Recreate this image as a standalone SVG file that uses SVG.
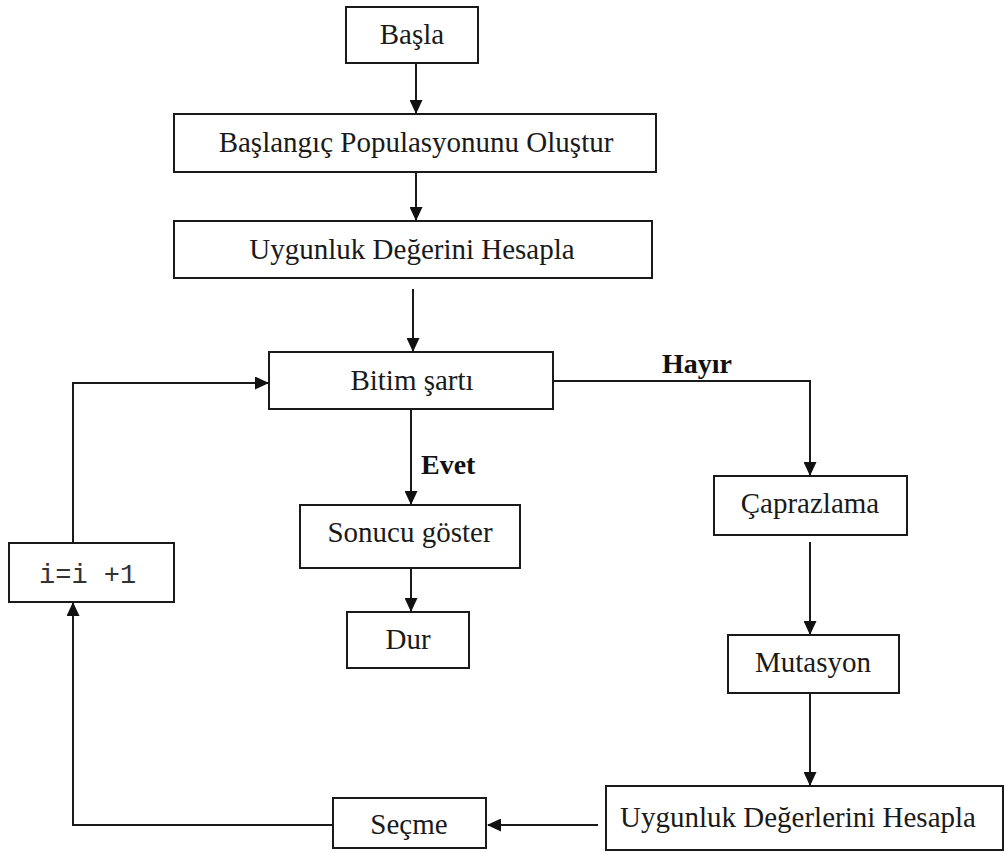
<svg xmlns="http://www.w3.org/2000/svg" width="1004" height="852" viewBox="0 0 1004 852">
<style>
.box{fill:#fff;stroke:#1a1a1a;stroke-width:2}
.t{font-family:"Liberation Serif","Times New Roman",serif;font-size:29px;fill:#1a1a1a;text-anchor:middle}
.b{font-family:"Liberation Serif","Times New Roman",serif;font-size:28px;font-weight:bold;fill:#111}
.m{font-family:"Liberation Mono","Courier New",monospace;font-size:27px;fill:#333}
.c{fill:none;stroke:#1a1a1a;stroke-width:2}
</style>
<defs>
<marker id="ah" markerWidth="14" markerHeight="13" refX="13" refY="6.5" orient="auto" markerUnits="userSpaceOnUse">
<path d="M0,0 L14,6.5 L0,13 Z" fill="#111"/>
</marker>
</defs>
<rect width="1004" height="852" fill="#fff"/>
<g id="connectors">
<path class="c" d="M416,63 V113" marker-end="url(#ah)"/>
<path class="c" d="M416,172 V220" marker-end="url(#ah)"/>
<path class="c" d="M413,289 V351" marker-end="url(#ah)"/>
<path class="c" d="M411,409 V504" marker-end="url(#ah)"/>
<path class="c" d="M411,568 V611" marker-end="url(#ah)"/>
<path class="c" d="M553,381 H810 V475" marker-end="url(#ah)"/>
<path class="c" d="M810,542 V634" marker-end="url(#ah)"/>
<path class="c" d="M810,693 V785" marker-end="url(#ah)"/>
<path class="c" d="M598,825 H488" marker-end="url(#ah)"/>
<path class="c" d="M333,825 H73 V603" marker-end="url(#ah)"/>
<path class="c" d="M73,543 V383 H268" marker-end="url(#ah)"/>
<text class="b" x="662" y="373">Hayır</text>
<text class="b" x="421" y="474">Evet</text>
</g>
<g id="basla"><rect class="box" x="346" y="7" width="132" height="56"/><text class="t" x="412" y="44">Başla</text></g>
<g id="populasyon"><rect class="box" x="174" y="114" width="482" height="58"/><text class="t" x="416" y="152">Başlangıç Populasyonunu Oluştur</text></g>
<g id="uygunluk1"><rect class="box" x="174" y="221" width="478" height="57"/><text class="t" x="412" y="259">Uygunluk Değerini Hesapla</text></g>
<g id="bitim"><rect class="box" x="269" y="352" width="284" height="57"/><text class="t" x="412" y="390">Bitim şartı</text></g>
<g id="sonuc"><rect class="box" x="300" y="505" width="220" height="63"/><text class="t" x="410" y="542">Sonucu göster</text></g>
<g id="dur"><rect class="box" x="347" y="612" width="122" height="56"/><text class="t" x="408" y="649">Dur</text></g>
<g id="caprazlama"><rect class="box" x="714" y="476" width="193" height="59"/><text class="t" x="810" y="513">Çaprazlama</text></g>
<g id="mutasyon"><rect class="box" x="728" y="635" width="171" height="58"/><text class="t" x="813" y="672">Mutasyon</text></g>
<g id="uygunluk2"><rect class="box" x="606" y="786" width="397" height="64"/><text class="t" x="798" y="827">Uygunluk Değerlerini Hesapla</text></g>
<g id="secme"><rect class="box" x="333" y="798" width="153" height="50"/><text class="t" x="409" y="834">Seçme</text></g>
<g id="artir"><rect class="box" x="9" y="543" width="165" height="59"/><text class="m" x="39" y="583">i=i +1</text></g>
</svg>
